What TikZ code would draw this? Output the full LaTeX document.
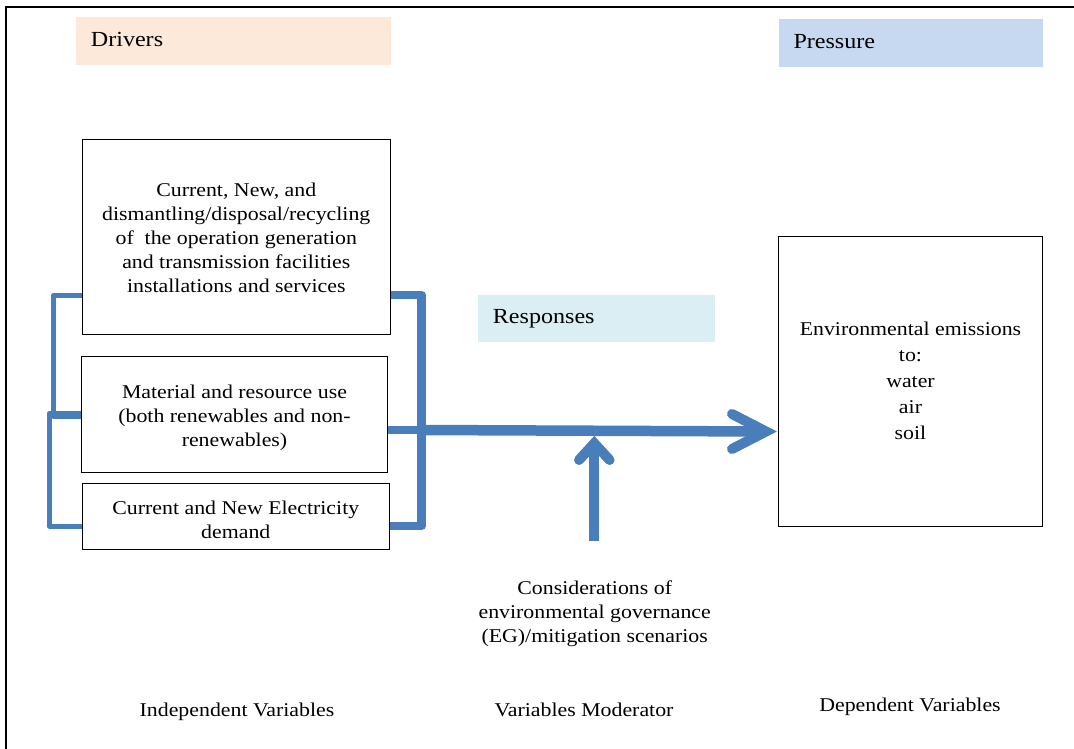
\documentclass[tikz,border=0pt]{standalone}
\usepackage{fontspec}
\setmainfont{Liberation Serif}[FakeStretch=1.12]
\definecolor{flowblue}{RGB}{74,126,187}
\definecolor{drvfill}{HTML}{FDE9D9}
\definecolor{prsfill}{HTML}{C6D9F1}
\definecolor{rspfill}{HTML}{DAEEF3}
\newcommand{\dgbody}{\fontsize{19.5}{24}\selectfont}
\newcommand{\dgwide}{\fontsize{19.5}{26}\selectfont}
\newcommand{\dghead}{\fontsize{21.5}{26}\selectfont}
% strut that lowers a centred text block by half its extra height
\newcommand{\dglower}[1]{\rule{0pt}{#1}}
\tikzset{
  band/.style={draw=none, inner sep=0pt},
  headtext/.style={inner sep=0pt, font=\dghead},
  box/.style={draw=black, line width=0.9pt, align=center, inner sep=0pt, font=\dgbody},
  caption/.style={inner sep=0pt, align=center, font=\dgbody},
  thinlink/.style={draw=flowblue, line width=5pt, line join=round},
  thicklink/.style={draw=flowblue, line width=8.5pt, line join=round},
  flowarrow/.style={draw=flowblue, line width=10.5pt, line join=miter},
  chevron/.style={draw=flowblue, line width=10pt, line join=miter, line cap=round}
}
\begin{document}
\begin{tikzpicture}[x=1pt, y=-1pt]
\useasboundingbox (0,0) rectangle (1074,749);

% frame
\draw[line width=2.2pt] (6,749) -- (6,6.7) -- (1074,6.7);

% heading bands
\node[band, fill=drvfill, minimum width=314.7pt, minimum height=48pt] (drivers) at (233.3,40.7) {};
\node[headtext, anchor=base west] (driverstxt) at (90.7,46.5) {Drivers};
\node[band, fill=prsfill, minimum width=263.7pt, minimum height=47.7pt] (pressure) at (910.9,42.9) {};
\node[headtext, anchor=base west] (pressuretxt) at (793.3,48.3) {Pressure};
\node[band, fill=rspfill, minimum width=236.7pt, minimum height=47.3pt] (responses) at (596.7,318.7) {};
\node[headtext, anchor=base west] (responsestxt) at (492.7,323.5) {Responses};

% driver boxes
\node[box, minimum width=307.5pt, minimum height=194.3pt] (infra) at (236.3,236.9)
  {\dglower{16.3pt}Current, New, and\\dismantling/disposal/recycling\\of~ the operation generation\\and transmission facilities\\installations and services};
\node[box, minimum width=305.6pt, minimum height=116.7pt] (mat) at (234.5,414.3)
  {\dglower{21.3pt}Material and resource use\\(both renewables and non-\\renewables)};
\node[box, minimum width=307pt, minimum height=65.7pt] (dem) at (235.8,516.2)
  {\dglower{21.3pt}Current and New Electricity\\demand};

% pressure box
\node[box, font=\dgwide, minimum width=264.4pt, minimum height=290.7pt] (emis) at (910.5,381.3)
  {Environmental emissions\\to:\\water\\air\\soil};

% moderator text
\node[caption] (cons) at (594.7,613.5)
  {Considerations of\\environmental governance\\(EG)/mitigation scenarios};

% column captions
\node[caption, anchor=base] (indep) at (237,716.7) {Independent Variables};
\node[caption, anchor=base] (moder) at (584,716) {Variables Moderator};
\node[caption, anchor=base] (depen) at (910,711) {Dependent Variables};

% left brackets
\draw[thinlink] (infra.west |- 0,295.5) -- (53.2,295.5) -- (53.2,416) -- (mat.west |- 0,416);
\draw[thinlink] (mat.west |- 0,413.5) -- (49.2,413.5) -- (49.2,526) -- (dem.west |- 0,526);

% right bracket collecting the drivers
\coordinate (hub) at (421.7,430);
\draw[thicklink] (infra.east |- 0,295) -- (421.7,295) -- (421.7,526) -- (dem.east |- 0,526);
\draw[thicklink] (mat.east |- hub) -- (hub);

% main flow arrow to the emissions box
\coordinate (tip) at (766,431.5);
\draw[flowarrow] (hub) -- (tip);
\draw[chevron] (732,414) -- (tip) -- (732,449);

% moderating arrow
\coordinate (modbase) at (594.3,541);
\coordinate (modtip) at (594.3,443.3);
\draw[draw=flowblue, line width=10pt] (modbase) -- (modtip);
\draw[chevron] (579,460) -- (modtip) -- (609.6,460);
\end{tikzpicture}
\end{document}
